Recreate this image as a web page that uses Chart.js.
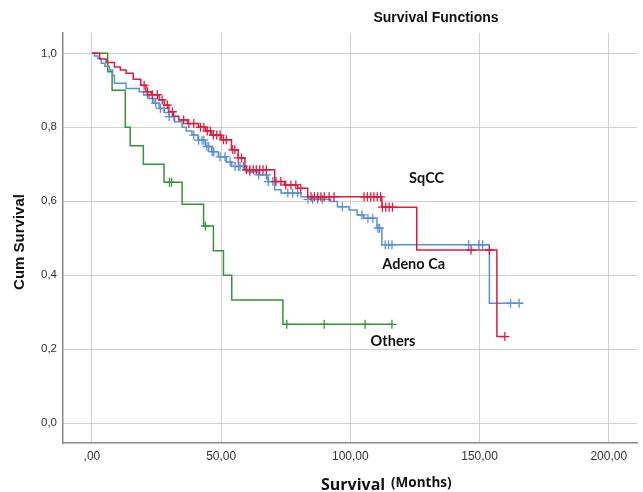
<!DOCTYPE html>
<html>
<head>
<meta charset="utf-8">
<script src="https://cdn.jsdelivr.net/npm/chart.js@4.4.1/dist/chart.umd.min.js"></script>
<style>
  html, body { margin: 0; padding: 0; background: #fff; }
</style>
</head>
<body>
<canvas id="kmChart" width="643" height="492"></canvas>
<script>
// Kaplan-Meier steps: time (months) where survival drops, and the new level
var sqccTimes = [0, 3, 5.5, 8.7, 11, 13.2, 16, 18.9, 20.9, 23, 26, 28, 29.8, 31.5, 33.6, 37, 41.3, 44, 46.3, 50.1, 54, 56.6, 59.2, 70.7, 74.5, 79.6, 83.5, 112.2, 125.7, 156.7];
var sqccSurv  = [1, 0.985, 0.975, 0.963, 0.955, 0.946, 0.93, 0.914, 0.896, 0.888, 0.874, 0.86, 0.842, 0.83, 0.82, 0.81, 0.80, 0.79, 0.779, 0.766, 0.739, 0.717, 0.685, 0.653, 0.644, 0.635, 0.612, 0.584, 0.468, 0.234];
var sqccCensored = [20.2, 21.5, 23.4, 25.3, 27.2, 29.2, 31.1, 35.5, 37.5, 39.4, 42, 43.3, 44.6, 45.8, 47, 48.3, 49.6, 50.9, 52, 54.5, 55.3, 56.6, 57.9, 59.8, 61.1, 62.4, 63.6, 64.9, 66.2, 67.5, 71.2, 73.1, 75, 77, 78.9, 80.8, 84.8, 86.1, 87.4, 88.6, 89.9, 91.8, 93.7, 105.3, 106.6, 107.9, 109.1, 110.4, 111.7, 112.4, 113.7, 115, 116.3, 146.7, 153.8, 159.8];

var adenoTimes = [0, 1, 2.3, 3.6, 5, 6.8, 8, 8.7, 13.2, 18.3, 20, 22.1, 24, 26, 28, 29.8, 32, 34.9, 36.5, 38.7, 41, 43.9, 46.4, 48.9, 52, 54.1, 59.8, 64.3, 68.1, 70.7, 73.2, 80.9, 83.5, 92.4, 95, 99.5, 102.6, 105.2, 110.3, 112.2, 153.8];
var adenoSurv  = [1, 0.993, 0.986, 0.973, 0.965, 0.955, 0.94, 0.919, 0.905, 0.896, 0.888, 0.878, 0.865, 0.851, 0.84, 0.829, 0.815, 0.80, 0.79, 0.779, 0.765, 0.748, 0.734, 0.72, 0.706, 0.694, 0.68, 0.671, 0.653, 0.631, 0.622, 0.612, 0.605, 0.599, 0.585, 0.576, 0.563, 0.554, 0.527, 0.482, 0.324];
var adenoCensored = [21.5, 23.4, 24.7, 26.5, 27.9, 29.9, 31.7, 39.4, 41.3, 42.6, 43.3, 44.5, 45.2, 46.5, 47.1, 49.6, 51.5, 53.5, 55.4, 56.7, 57.3, 58.6, 61.1, 64.5, 67.5, 68.2, 70, 75.8, 77.7, 79.6, 83.6, 85.4, 87.3, 89.2, 96.9, 104.5, 106.8, 108.7, 110.7, 111.3, 113.5, 114.8, 116.1, 145.8, 149.7, 151.2, 162, 165.3];

var othersTimes = [0, 6.1, 7.8, 12.9, 14.8, 19.9, 27.9, 34.9, 43.2, 47, 50.9, 54.1, 73.9];
var othersSurv  = [1, 0.95, 0.90, 0.80, 0.75, 0.70, 0.651, 0.592, 0.533, 0.466, 0.40, 0.333, 0.267];
var othersCensored = [30, 30.8, 43.9, 75.4, 89.9, 105.7, 116.1];

var groupNames = ["SqCC", "Adeno Ca", "Others"];
var xTickVals = [0, 50, 100, 150, 200];
var xTickLabels = [",00", "50,00", "100,00", "150,00", "200,00"];
var yTickVals = [0, 0.2, 0.4, 0.6, 0.8, 1.0];
var yTickLabels = ["0,0", "0,2", "0,4", "0,6", "0,8", "1,0"];

function survAt(times, surv, t) {
  var s = surv[0];
  for (var i = 0; i < times.length; i++) {
    if (times[i] <= t) s = surv[i];
  }
  return s;
}

// step line runs on to the last censored case
function stepLine(times, surv, censored) {
  var pts = times.map(function (t, i) { return {x: t, y: surv[i]}; });
  var last = censored[censored.length - 1];
  if (last > times[times.length - 1]) pts.push({x: last, y: surv[surv.length - 1]});
  return pts;
}
function censorPts(times, surv, censored) {
  return censored.map(function (t) { return {x: t, y: survAt(times, surv, t)}; });
}

var RED = "rgb(222,28,62)", BLUE = "rgb(88,146,212)", GREEN = "rgb(52,150,52)";

function lineSet(data, color) {
  return { type: 'line', data: data, borderColor: color, borderWidth: 1.5, stepped: true,
           pointRadius: 0, fill: false };
}
function censorSet(data, color) {
  return { type: 'scatter', data: data, borderColor: color, backgroundColor: color,
           pointStyle: 'cross', pointRadius: 4.5, borderWidth: 1.3, showLine: false };
}

var labelsPlugin = {
  id: 'kmLabels',
  afterDraw: function (chart) {
    var ctx = chart.ctx, xs = chart.scales.x, ys = chart.scales.y;
    ctx.save();
    ctx.fillStyle = "#111";
    ctx.textAlign = "center";
    ctx.textBaseline = "middle";
    ctx.font = "bold 14.5px Lato";
    ctx.fillText(groupNames[0], xs.getPixelForValue(129.5), ys.getPixelForValue(0.663));
    ctx.fillText(groupNames[1], xs.getPixelForValue(124.5), ys.getPixelForValue(0.430));
    ctx.fillText(groupNames[2], xs.getPixelForValue(116.5), ys.getPixelForValue(0.220));

    ctx.font = "bold 14px 'Liberation Sans'";
    ctx.fillText("Survival Functions", 436, 18);

    ctx.font = "bold 15px 'Liberation Sans'";
    ctx.translate(20, 242);
    ctx.rotate(-Math.PI / 2);
    ctx.fillText("Cum Survival", 0, 0);
    ctx.restore();

    ctx.save();
    ctx.fillStyle = "#111";
    ctx.textBaseline = "middle";
    ctx.textAlign = "left";
    ctx.font = "bold 16px 'Open Sans'";
    ctx.fillText("Survival", 321, 485);
    ctx.font = "bold 13.5px 'Open Sans'";
    ctx.fillText("(Months)", 391, 483);
    ctx.restore();
  }
};

new Chart(document.getElementById("kmChart").getContext('2d'), {
  data: {
    datasets: [
      lineSet(stepLine(sqccTimes, sqccSurv, sqccCensored), RED),
      censorSet(censorPts(sqccTimes, sqccSurv, sqccCensored), RED),
      lineSet(stepLine(adenoTimes, adenoSurv, adenoCensored), BLUE),
      censorSet(censorPts(adenoTimes, adenoSurv, adenoCensored), BLUE),
      lineSet(stepLine(othersTimes, othersSurv, othersCensored), GREEN),
      censorSet(censorPts(othersTimes, othersSurv, othersCensored), GREEN)
    ]
  },
  options: {
    responsive: false,
    animation: false,
    layout: { padding: { top: 33, right: 0, left: 0, bottom: 0 } },
    plugins: { legend: { display: false }, tooltip: { enabled: false } },
    scales: {
      x: {
        type: 'linear', min: -11.2, max: 211,
        afterBuildTicks: function (s) { s.ticks = xTickVals.map(function (v) { return {value: v}; }); },
        afterFit: function (s) { s.height = 49; },
        ticks: { padding: 6, color: "#333", font: { family: "Liberation Sans", size: 12 },
                 callback: function (v, i) { return xTickLabels[i]; } },
        grid: { color: "#d0d0d0", lineWidth: 1, drawTicks: false },
        border: { color: "#8a8a8a", width: 1.5 }
      },
      y: {
        type: 'linear', min: -0.054, max: 1.055,
        afterBuildTicks: function (s) { s.ticks = yTickVals.map(function (v) { return {value: v}; }); },
        afterFit: function (s) { s.width = 63; },
        ticks: { padding: 6, color: "#333", font: { family: "Liberation Sans", size: 11.5 },
                 callback: function (v, i) { return yTickLabels[i]; } },
        grid: { color: "#d0d0d0", lineWidth: 1, drawTicks: false },
        border: { color: "#8a8a8a", width: 1.5 }
      }
    }
  },
  plugins: [labelsPlugin]
});
</script>
</body>
</html>
